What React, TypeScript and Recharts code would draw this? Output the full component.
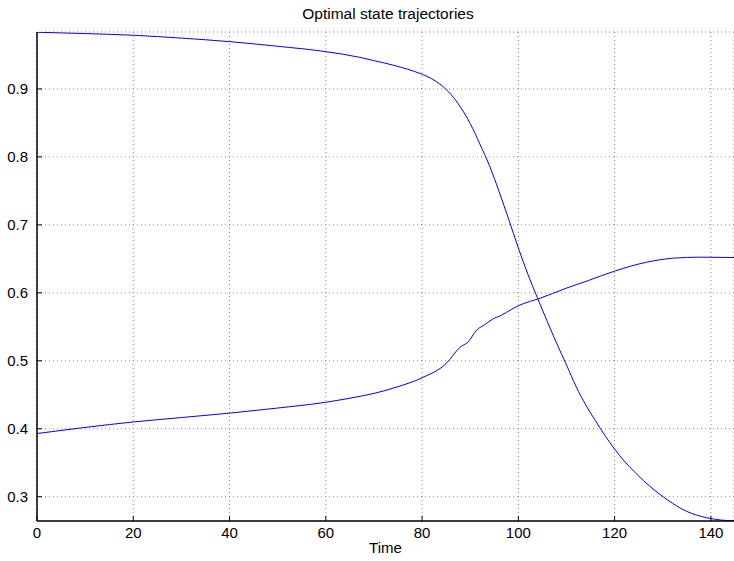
import React from "react";
import {
  CartesianGrid,
  Line,
  LineChart,
  XAxis,
  YAxis,
} from "recharts";

// state 1: falls off after t ~ 85
const time1 = [0, 10, 20, 30, 40, 50, 60, 67, 70, 74, 77, 80, 82, 84, 86, 88, 90, 92, 94, 96, 98, 100, 102, 104, 106, 108, 110, 112, 114, 116, 118, 120, 122, 124, 126, 128, 130, 132, 134, 136, 138, 140, 142, 144.8];
const state1 = [0.9835, 0.9815, 0.979, 0.9748, 0.9696, 0.9628, 0.9549, 0.9466, 0.9417, 0.935, 0.929, 0.9216, 0.915, 0.9055, 0.892, 0.873, 0.849, 0.819, 0.787, 0.749, 0.708, 0.666, 0.627, 0.592, 0.558, 0.525, 0.494, 0.462, 0.435, 0.412, 0.39, 0.37, 0.3525, 0.3375, 0.3237, 0.3113, 0.3003, 0.2905, 0.2818, 0.2755, 0.271, 0.2678, 0.2658, 0.2645];

// state 2: rises, with small kinks around t ~ 88-95
const time2 = [0, 10, 20, 30, 40, 50, 60, 65, 70, 75, 80, 85, 87.9, 89.6, 91.3, 93, 94.8, 96.2, 98.9, 101, 104.1, 110, 114.5, 120, 126.6, 132.2, 137.7, 144.8];
const state2 = [0.393, 0.402, 0.41, 0.4165, 0.423, 0.4305, 0.439, 0.445, 0.452, 0.462, 0.475, 0.496, 0.52, 0.528, 0.545, 0.553, 0.562, 0.566, 0.577, 0.584, 0.591, 0.607, 0.618, 0.632, 0.645, 0.651, 0.6525, 0.652];

const xTicks = [0, 20, 40, 60, 80, 100, 120, 140];
const yTicks = [0.3, 0.4, 0.5, 0.6, 0.7, 0.8, 0.9];

const line1 = time1.map((t, i) => ({ t, v: state1[i] }));
const line2 = time2.map((t, i) => ({ t, v: state2[i] }));

const font = "'Liberation Sans', Arial, Helvetica, sans-serif";
const GAP = 6;

// ticks point into the plot, matlab style
const BottomTick = (props: any) => {
  const { x, y, payload } = props;
  return (
    <g>
      <line x1={x} x2={x} y1={y - GAP} y2={y - GAP - 5} stroke="#000" />
      <text x={x} y={y} dy="0.71em" textAnchor="middle" fontSize={15} fill="#000" fontFamily={font}>
        {payload.value}
      </text>
    </g>
  );
};

const TopTick = (props: any) => {
  const { x, y } = props;
  return <line x1={x} x2={x} y1={y} y2={y + 5} stroke="#000" />;
};

const LeftTick = (props: any) => {
  const { x, y, payload } = props;
  return (
    <g>
      <line x1={x + GAP + 3} x2={x + GAP + 8} y1={y} y2={y} stroke="#000" />
      <text x={x} y={y} dy="0.355em" textAnchor="end" fontSize={15} fill="#000" fontFamily={font}>
        {payload.value}
      </text>
    </g>
  );
};

export default function App() {
  return (
    <div style={{ position: "absolute", left: 0, top: 0, width: 734, height: 561, background: "#fff" }}>
      <div
        style={{
          position: "absolute",
          top: 5,
          left: 0,
          width: 776,
          textAlign: "center",
          fontFamily: font,
          fontSize: 15.5,
          color: "#000",
        }}
      >
        Optimal state trajectories
      </div>
      <LineChart
        width={734}
        height={561}
        margin={{ top: 32, right: 0, left: 0, bottom: 10 }}
      >
        <CartesianGrid stroke="#888" strokeDasharray="1 3" />
        <XAxis
          dataKey="t"
          type="number"
          domain={[0, 144.8]}
          ticks={xTicks}
          allowDataOverflow
          height={30}
          stroke="#000"
          strokeWidth={1.5}
          tick={<BottomTick />}
          tickLine={false}
          tickSize={0}
          tickMargin={GAP}
          label={{ value: "Time", position: "insideBottom", offset: -2, style: { fontSize: 15, fill: "#000", fontFamily: font } }}
        />
        <XAxis
          xAxisId="top"
          orientation="top"
          type="number"
          domain={[0, 144.8]}
          ticks={xTicks}
          height={0}
          stroke="#000"
          tick={<TopTick />}
          tickLine={false}
          tickSize={0}
          tickMargin={0}
        />
        <YAxis
          type="number"
          domain={[0.2643, 0.9838]}
          ticks={yTicks}
          allowDataOverflow
          width={37}
          stroke="#000"
          strokeWidth={1.5}
          tick={<LeftTick />}
          tickLine={false}
          tickSize={0}
          tickMargin={GAP + 3}
        />
        <Line data={line1} dataKey="v" type="monotone" stroke="#0000ff" strokeWidth={1} dot={false} isAnimationActive={false} />
        <Line data={line2} dataKey="v" type="monotone" stroke="#0000ff" strokeWidth={1} dot={false} isAnimationActive={false} />
      </LineChart>
    </div>
  );
}
